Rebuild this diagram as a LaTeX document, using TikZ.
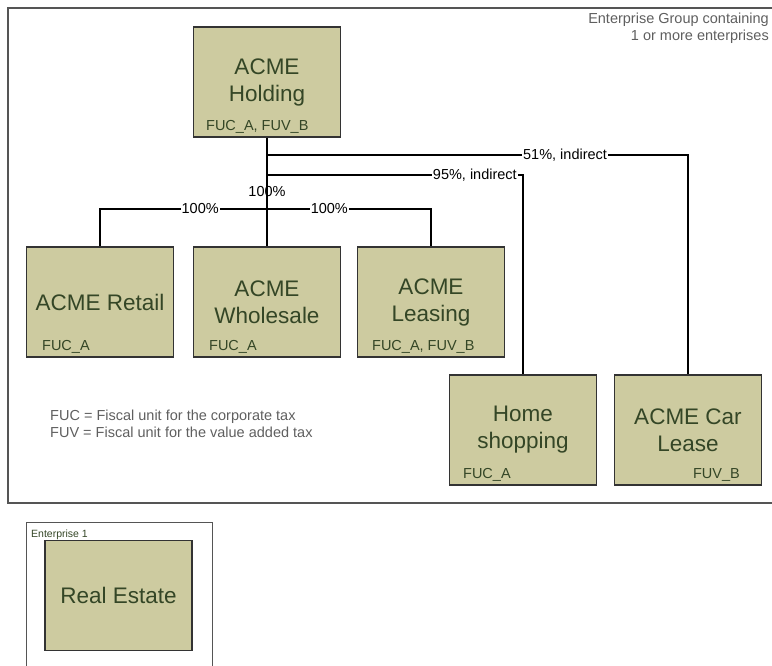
\documentclass[tikz,border=0pt]{standalone}
\usepackage{fontspec}
\setmainfont{Liberation Sans}
\usetikzlibrary{calc}
\definecolor{firmfill}{RGB}{205,203,160}
\definecolor{firmtext}{RGB}{52,70,38}
\definecolor{framegray}{RGB}{85,85,85}
\definecolor{notegray}{RGB}{95,95,95}

\begin{document}
\begin{tikzpicture}[x=1pt,y=-1pt,
  firm/.style={draw=black!80,line width=1.1pt,fill=firmfill,minimum width=147pt,minimum height=110pt,
    inner sep=2pt,align=center,text=firmtext,font=\fontsize{22.5}{27}\selectfont},
  fu/.style={text=firmtext,inner sep=0pt,font=\fontsize{14.5}{16}\selectfont},
  share/.style={fill=white,inner sep=1pt,font=\fontsize{14.5}{16}\selectfont},
  note/.style={text=notegray,inner sep=0pt,font=\fontsize{14.5}{17}\selectfont},
  link/.style={line width=1.2pt}]
  \useasboundingbox (0,0) rectangle (772,666);
  % enterprise group frame
  \draw[framegray,line width=1.4pt] (790,8) -- (8,8) -- (8,503) -- (790,503);
  \node[note,anchor=north east,align=right] (grouptxt) at (769,13) {Enterprise Group containing\\1 or more enterprises};
  % companies
  \node[firm] (hold) at (267,82) {ACME\\Holding};
  \node[firm] (retail) at (100,302) {ACME Retail};
  \node[firm] (whole) at (267,302) {ACME\\Wholesale};
  \node[firm] (lease) at (431,302) {ACME\\Leasing};
  \node[firm] (home) at (523,430) {Home\\shopping};
  \node[firm] (car) at (688,430) {ACME Car\\Lease};
  % fiscal unit tags
  \node[fu,anchor=south west] (holdfu) at ([xshift=13pt,yshift=4pt]hold.south west) {FUC\_A, FUV\_B};
  \node[fu,anchor=south west] (retailfu) at ([xshift=16pt,yshift=4pt]retail.south west) {FUC\_A};
  \node[fu,anchor=south west] (wholefu) at ([xshift=16pt,yshift=4pt]whole.south west) {FUC\_A};
  \node[fu,anchor=south west] (leasefu) at ([xshift=15pt,yshift=4pt]lease.south west) {FUC\_A, FUV\_B};
  \node[fu,anchor=south west] (homefu) at ([xshift=14pt,yshift=4pt]home.south west) {FUC\_A};
  \node[fu,anchor=south east] (carfu) at ([xshift=-22pt,yshift=4pt]car.south east) {FUV\_B};
  % ownership links
  \coordinate (j51) at (267,155);
  \coordinate (j95) at (267,175);
  \coordinate (j100) at (267,209);
  \draw[link] (hold.south) -- node[share,fill=none]{100\%} (whole.north);
  \draw[link] (j51) -| node[share,pos=0.354]{51\%, indirect} (car.north);
  \draw[link] (j95) -| node[share,pos=0.406]{95\%, indirect} (home.north);
  \draw[link] (retail.north) |- node[share,pos=0.8]{100\%} (j100)
    -| node[share,pos=0.19]{100\%} (lease.north);
  % legend
  \node[note,anchor=west,align=left] (legend) at (50,424) {FUC = Fiscal unit for the corporate tax\\FUV = Fiscal unit for the value added tax};
  % enterprise 1
  \draw[framegray,line width=1pt] (26,680) -- (26,522) -- (212,522) -- (212,680);
  \node[anchor=base west,inner sep=0pt,text=firmtext,font=\fontsize{10.5}{12}\selectfont] (enttxt) at (31,537) {Enterprise 1};
  \node[firm] (estate) at (118.5,595.5) {Real Estate};
\end{tikzpicture}
\end{document}
